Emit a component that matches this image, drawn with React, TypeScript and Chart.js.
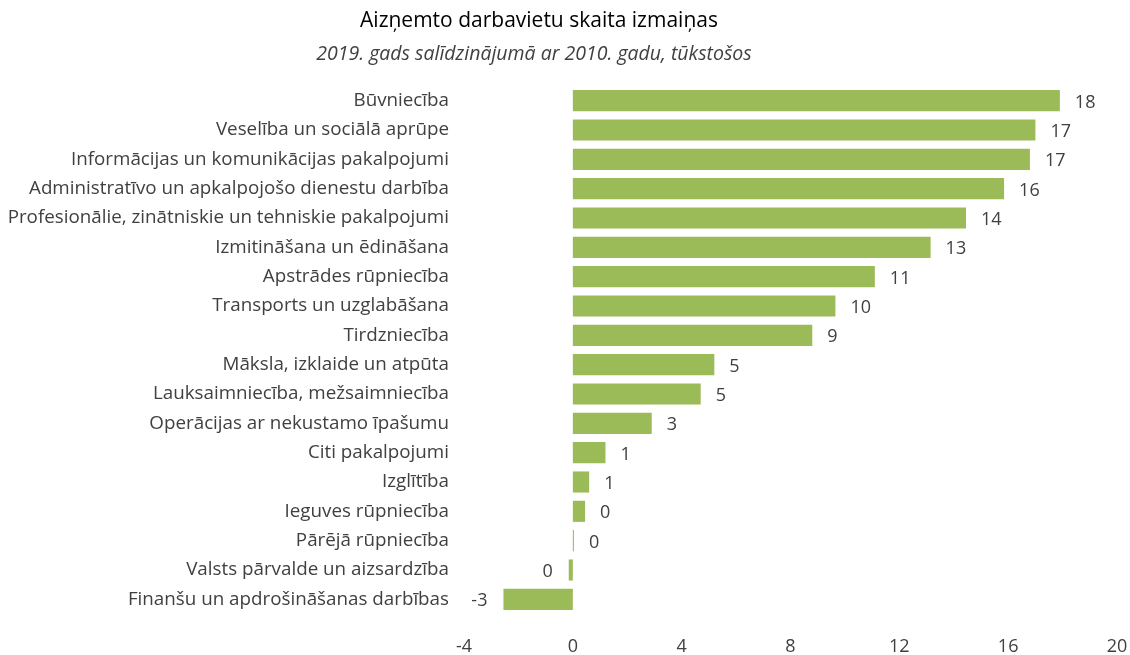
import React, { useEffect, useRef } from "react";
import { Chart, registerables } from "chart.js";

Chart.register(...registerables);

const TITLE = "Aizņemto darbavietu skaita izmaiņas";
const SUBTITLE = "2019. gads salīdzinājumā ar 2010. gadu, tūkstošos";

const categories = [
  "Būvniecība",
  "Veselība un sociālā aprūpe",
  "Informācijas un komunikācijas pakalpojumi",
  "Administratīvo un apkalpojošo dienestu darbība",
  "Profesionālie, zinātniskie un tehniskie pakalpojumi",
  "Izmitināšana un ēdināšana",
  "Apstrādes rūpniecība",
  "Transports un uzglabāšana",
  "Tirdzniecība",
  "Māksla, izklaide un atpūta",
  "Lauksaimniecība, mežsaimniecība",
  "Operācijas ar nekustamo īpašumu",
  "Citi pakalpojumi",
  "Izglītība",
  "Ieguves rūpniecība",
  "Pārējā rūpniecība",
  "Valsts pārvalde un aizsardzība",
  "Finanšu un apdrošināšanas darbības",
];

const values = [17.9, 17.0, 16.8, 15.85, 14.45, 13.15, 11.1, 9.65, 8.8, 5.2, 4.7, 2.9, 1.2, 0.6, 0.45, 0.04, -0.15, -2.55];

const xTicks = [-4, 0, 4, 8, 12, 16, 20];

const BAR_COLOR = "#9BBB59";
const TEXT_COLOR = "#404040";
const FONT = "'Open Sans', 'Noto Sans', sans-serif";

const titlePlugin = {
  id: "customTitles",
  afterDraw(chart: any) {
    const ctx = chart.ctx;
    ctx.save();
    ctx.textAlign = "center";
    ctx.textBaseline = "middle";
    ctx.fillStyle = "#000000";
    ctx.font = `21px ${FONT}`;
    ctx.fillText(TITLE, 539, 21);
    ctx.fillStyle = TEXT_COLOR;
    ctx.font = `italic 19.5px ${FONT}`;
    ctx.fillText(SUBTITLE, 534, 54);
    ctx.restore();
  },
};

const valueLabelPlugin = {
  id: "valueLabels",
  afterDatasetsDraw(chart: any) {
    const ctx = chart.ctx;
    const meta = chart.getDatasetMeta(0);
    ctx.save();
    ctx.fillStyle = TEXT_COLOR;
    ctx.font = `18px ${FONT}`;
    ctx.textBaseline = "middle";
    meta.data.forEach((bar: any, i: number) => {
      const v = values[i];
      const r = Math.round(v);
      const txt = String(r === 0 ? 0 : r);
      if (v >= 0) {
        ctx.textAlign = "left";
        ctx.fillText(txt, bar.x + 15, bar.y + 2);
      } else {
        ctx.textAlign = "right";
        ctx.fillText(txt, bar.x - 16, bar.y + 2);
      }
    });
    ctx.restore();
  },
};

export default function App() {
  const ref = useRef<HTMLCanvasElement>(null);
  useEffect(() => {
    if (!ref.current) return;
    const chart = new Chart(ref.current, {
      type: "bar",
      data: {
        labels: categories,
        datasets: [
          {
            data: values,
            backgroundColor: BAR_COLOR,
            barPercentage: 0.72,
            categoryPercentage: 1,
          },
        ],
      },
      options: {
        indexAxis: "y",
        animation: false,
        responsive: false,
        maintainAspectRatio: false,
        layout: { padding: { top: 86, right: 13, left: 0, bottom: 0 } },
        plugins: {
          legend: { display: false },
          title: { display: false },
          tooltip: { enabled: false },
        },
        scales: {
          x: {
            min: -4,
            max: 20,
            afterBuildTicks(scale: any) {
              scale.ticks = xTicks.map((v) => ({ value: v }));
            },
            grid: { display: false, drawTicks: false },
            border: { display: false },
            ticks: {
              color: TEXT_COLOR,
              font: { family: FONT, size: 18 },
              padding: 22,
            },
            afterFit(scale: any) {
              scale.height = 41;
              scale.paddingLeft = 0;
              scale.paddingRight = 0;
            },
          },
          y: {
            grid: { display: false, drawTicks: false },
            border: { display: false },
            ticks: {
              color: TEXT_COLOR,
              font: { family: FONT, size: 18.8 },
              padding: 15,
              autoSkip: false,
            },
            afterFit(scale: any) {
              scale.width = 464;
              scale.paddingTop = 0;
              scale.paddingBottom = 0;
            },
          },
        },
      },
      plugins: [titlePlugin, valueLabelPlugin],
    });
    return () => chart.destroy();
  }, []);
  return (
    <div style={{ position: "fixed", left: 0, top: 0, width: 1130, height: 655, background: "#fff" }}>
      <canvas ref={ref} width={1130} height={655} style={{ display: "block" }} />
    </div>
  );
}
